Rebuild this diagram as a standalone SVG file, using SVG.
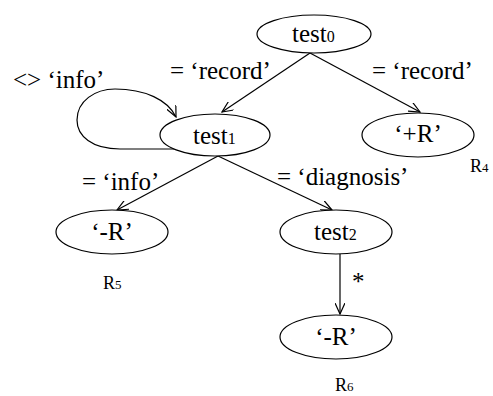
<svg xmlns="http://www.w3.org/2000/svg" width="493" height="396" viewBox="0 0 493 396">
<style>
.n{fill:#fff;stroke:#000;stroke-width:1.2}
.e{fill:none;stroke:#000;stroke-width:1.2}
</style>
<defs>
<marker id="a" viewBox="0 0 12 10" refX="11" refY="5" markerWidth="12" markerHeight="10" markerUnits="userSpaceOnUse" orient="auto">
<path d="M0,0 L11,5 L0,10" fill="none" stroke="#000" stroke-width="1.2"/>
</marker>
</defs>
<g id="edges">
<path class="e" d="M310,53 L222,112" marker-end="url(#a)"/>
<path class="e" d="M310,53 L420,112" marker-end="url(#a)"/>
<path class="e" d="M218,156 L117,210" marker-end="url(#a)"/>
<path class="e" d="M218,156 L332,210" marker-end="url(#a)"/>
<path class="e" d="M340,254 L340,314" marker-end="url(#a)"/>
<path class="e" d="M177,149 L120,149 C92,149 77,136 77,120 C77,101 95,89 115,89 C145,89 168,100 176,117" marker-end="url(#a)"/>
</g>
<g id="test0">
<ellipse class="n" cx="314" cy="34" rx="57" ry="19"/>
<text style="font-family:'Liberation Serif',serif;font-size:25px" x="292" y="42">test<tspan style="font-size:16px">0</tspan></text>
</g>
<g id="test1">
<ellipse class="n" cx="215" cy="135" rx="55" ry="21"/>
<text style="font-family:'Liberation Serif',serif;font-size:25px" x="193" y="144">test<tspan style="font-size:16px">1</tspan></text>
</g>
<g id="plusR">
<ellipse class="n" cx="418" cy="135" rx="56" ry="22"/>
<text style="font-family:'Liberation Serif',serif;font-size:25px" x="418" y="142" text-anchor="middle">‘+R’</text>
</g>
<g id="minusR5">
<ellipse class="n" cx="112" cy="232" rx="56" ry="22"/>
<text style="font-family:'Liberation Serif',serif;font-size:25px" x="112" y="240" text-anchor="middle">‘-R’</text>
</g>
<g id="test2">
<ellipse class="n" cx="336" cy="232" rx="56" ry="22"/>
<text style="font-family:'Liberation Serif',serif;font-size:25px" x="314" y="240">test<tspan style="font-size:16px">2</tspan></text>
</g>
<g id="minusR6">
<ellipse class="n" cx="336" cy="337" rx="56" ry="22"/>
<text style="font-family:'Liberation Serif',serif;font-size:25px" x="336" y="345" text-anchor="middle">‘-R’</text>
</g>
<g id="labels">
<text style="font-family:'Liberation Serif',serif;font-size:25px" x="170" y="79">= ‘record’</text>
<text style="font-family:'Liberation Serif',serif;font-size:25px" x="372" y="79">= ‘record’</text>
<text style="font-family:'Liberation Serif',serif;font-size:25px" x="13" y="88">&lt;&gt; ‘info’</text>
<text style="font-family:'Liberation Serif',serif;font-size:25px" x="82" y="190">= ‘info’</text>
<text style="font-family:'Liberation Serif',serif;font-size:25px" x="277" y="185">= ‘diagnosis’</text>
<text style="font-family:'Liberation Serif',serif;font-size:25px" x="352" y="290">*</text>
<text style="font-family:'Liberation Serif',serif;font-size:18px" x="470" y="172">R<tspan style="font-size:13px">4</tspan></text>
<text style="font-family:'Liberation Serif',serif;font-size:18px" x="103" y="289">R<tspan style="font-size:13px">5</tspan></text>
<text style="font-family:'Liberation Serif',serif;font-size:18px" x="335" y="391">R<tspan style="font-size:13px">6</tspan></text>
</g>
</svg>
